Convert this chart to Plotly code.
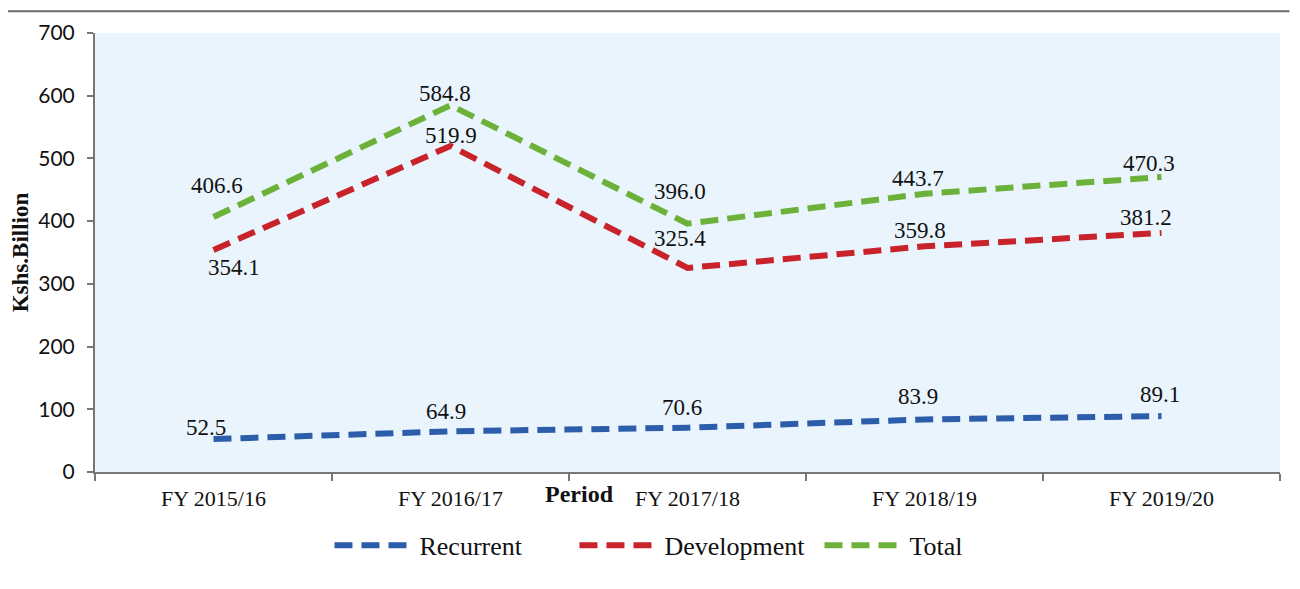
import plotly.graph_objects as go

periods = ["FY 2015/16", "FY 2016/17", "FY 2017/18", "FY 2018/19", "FY 2019/20"]
recurrent = [52.5, 64.9, 70.6, 83.9, 89.1]
development = [354.1, 519.9, 325.4, 359.8, 381.2]
total = [406.6, 584.8, 396.0, 443.7, 470.3]

series = [
    ("Recurrent", recurrent, "#2B5DAB"),
    ("Development", development, "#C8232B"),
    ("Total", total, "#6CB23A"),
]

# label offsets (px) per series, per point
label_shifts = {
    "Recurrent": [(-8, 12), (-5, 20), (-6, 20), (-7, 23), (-2, 22)],
    "Development": [(20, -18), (0, 10), (-8, 29), (-5, 16), (-16, 15)],
    "Total": [(3, 32), (-6, 12), (-8, 32), (-7, 15), (-13, 14)],
}

fig = go.Figure()
for name, vals, color in series:
    fig.add_trace(go.Scatter(
        x=periods, y=vals, name=name, mode="lines",
        line=dict(color=color, width=6, dash="18px,9px"),
    ))
    for p, v, (dx, dy) in zip(periods, vals, label_shifts[name]):
        fig.add_annotation(
            x=p, y=v, text=f"{v:.1f}", showarrow=False,
            xshift=dx, yshift=dy,
            font=dict(family="Liberation Serif", size=23, color="#111"),
        )

fig.add_annotation(
    x=0.409, y=-0.05, xref="paper", yref="paper", text="<b>Period</b>",
    xanchor="center", yanchor="middle",
    showarrow=False, font=dict(family="Liberation Serif", size=24, color="#111"),
)

fig.add_shape(
    type="line", xref="paper", yref="paper",
    x0=-0.08, x1=1.008, y0=1.0497, y1=1.0497,
    line=dict(color="#6b6b6b", width=2),
)

fig.update_layout(
    width=1284, height=573,
    margin=dict(l=87, r=12, t=25, b=105),
    paper_bgcolor="white",
    plot_bgcolor="#E9F4FC",
    showlegend=True,
    legend=dict(
        orientation="h", x=0.508, xanchor="center", y=-0.167, yanchor="middle",
        font=dict(family="Liberation Serif", size=26, color="#111"),
        itemwidth=80, entrywidth=150,
    ),
    xaxis=dict(
        range=[-0.5, 4.5], showgrid=False, showline=True, linecolor="#777",
        linewidth=2, ticks="outside", tickson="boundaries", ticklen=7,
        tickcolor="#777", tickwidth=2, ticklabelstandoff=6, automargin=False,
        tickfont=dict(family="Liberation Serif", size=22, color="#111"),
    ),
    yaxis=dict(
        range=[0, 700], dtick=100, showgrid=False, showline=True,
        linecolor="#777", linewidth=2, ticks="outside", ticklen=6,
        tickcolor="#777", tickwidth=2, ticklabelstandoff=8, automargin=False,
        tickfont=dict(family="Lato", size=21, color="#111"),
        title=dict(text="<b>Kshs.Billion</b>", standoff=12,
                   font=dict(family="Liberation Serif", size=23, color="#111")),
    ),
)

fig.write_html("out.html")
